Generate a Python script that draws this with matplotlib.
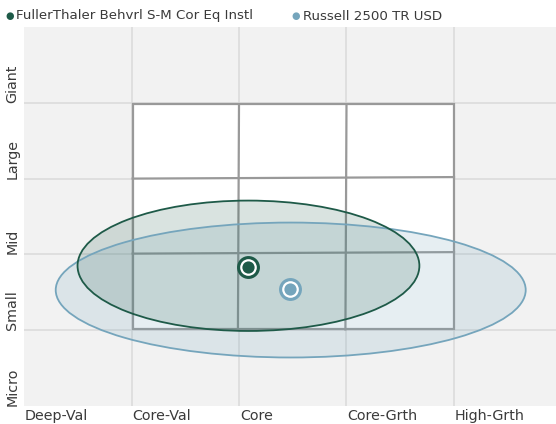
import matplotlib.pyplot as plt
from matplotlib.patches import Ellipse, Rectangle

# style box axes (0..5 each way, one unit per style / size band)
x_labels = ['Deep-Val', 'Core-Val', 'Core', 'Core-Grth', 'High-Grth']
y_labels = ['Micro', 'Small', 'Mid', 'Large', 'Giant']

# ownership zones: centre x, centre y, half width, half height
fund_name = 'FullerThaler Behvrl S-M Cor Eq Instl'
fund_zone = (2.088, 1.85, 1.59, 0.86)
fund_point = (2.084, 1.834)

bench_name = 'Russell 2500 TR USD'
bench_zone = (2.481, 1.53, 2.186, 0.89)
bench_point = (2.474, 1.544)

# 3x3 style box borders (slightly skewed): (x0, y0, x1, y1)
box_outer = (1.01, 1.01, 4.0, 3.98)
box_vlines = [(2.0, 3.98, 1.99, 1.01), (3.0, 3.98, 2.99, 1.01)]
box_hlines = [(1.01, 3.0, 4.0, 3.02), (1.01, 2.01, 4.0, 2.03)]

fund_col = '#1e5a48'
bench_col = '#75a5bc'
box_col = '#999999'
grid_col = '#dcdcdc'
text_col = '#3a3a3a'

W, H = 556, 424
fig = plt.figure(figsize=(W / 100, H / 100), dpi=100)
left, top, bottom = 24, 27, 406
ax = fig.add_axes([left / W, (H - bottom) / H, (W - left) / W, (bottom - top) / H])
ax.set_xlim(0, (W - left) / 107.5)
ax.set_ylim(0, 5)
ax.set_facecolor('#f2f2f2')
for s in ax.spines.values():
    s.set_visible(False)
ax.set_xticks([])
ax.set_yticks([])

for i in range(1, 5):
    ax.axvline(i, color=grid_col, lw=1.2, zorder=1)
    ax.axhline(i, color=grid_col, lw=1.2, zorder=1)

x0, y0, x1, y1 = box_outer
ax.add_patch(Rectangle((x0, y0), x1 - x0, y1 - y0, facecolor='white',
                       edgecolor=box_col, lw=1.6, zorder=2))
for a, b, c, d in box_vlines + box_hlines:
    ax.plot([a, c], [b, d], color=box_col, lw=1.6, zorder=2)

cx, cy, rx, ry = bench_zone
ax.add_patch(Ellipse((cx, cy), 2 * rx, 2 * ry, facecolor=bench_col, alpha=0.18,
                     edgecolor='none', zorder=3))
ax.add_patch(Ellipse((cx, cy), 2 * rx, 2 * ry, facecolor='none',
                     edgecolor=bench_col, lw=1.3, zorder=4))
cx, cy, rx, ry = fund_zone
ax.add_patch(Ellipse((cx, cy), 2 * rx, 2 * ry, facecolor=fund_col, alpha=0.17,
                     edgecolor='none', zorder=3))
ax.add_patch(Ellipse((cx, cy), 2 * rx, 2 * ry, facecolor='none',
                     edgecolor=fund_col, lw=1.3, zorder=4))

for (px, py), col in [(bench_point, bench_col), (fund_point, fund_col)]:
    ax.plot(px, py, 'o', ms=16.5, color=col, mec='none', zorder=5)
    ax.plot(px, py, 'o', ms=12, color='white', mec='none', zorder=6)
    ax.plot(px, py, 'o', ms=8.8, color=col, mec='none', zorder=7)

for i, lab in enumerate(x_labels):
    ax.text(i + 0.01, -0.035, lab, ha='left', va='top', fontsize=10.3,
            color=text_col, clip_on=False)
for i, lab in enumerate(y_labels):
    ax.text(-0.11, i + 0.0, lab, ha='center', va='bottom', rotation=90,
            fontsize=10.3, color=text_col, clip_on=False)

fig.text(10 / W, 1 - 16 / H, '\u25cf', color=fund_col, fontsize=7,
         ha='center', va='center')
fig.text(16 / W, 1 - 16 / H, fund_name, color=text_col, fontsize=9.6,
         ha='left', va='center')
fig.text(296 / W, 1 - 16 / H, '\u25cf', color=bench_col, fontsize=7,
         ha='center', va='center')
fig.text(303 / W, 1 - 16 / H, bench_name, color=text_col, fontsize=9.6,
         ha='left', va='center')

fig.savefig('out.png', dpi=100)
